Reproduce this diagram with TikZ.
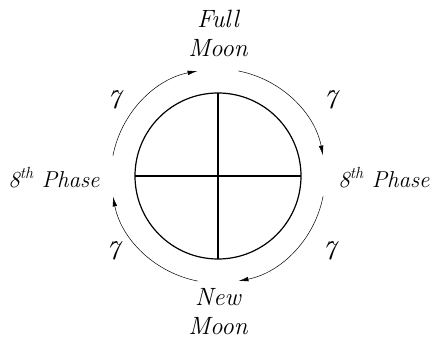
\documentclass[tikz,border=0pt]{standalone}
\usetikzlibrary{arrows.meta}
\begin{document}
\begin{tikzpicture}[x=1pt, y=1pt, >={Latex[length=10pt,width=4.5pt]},
    lbl/.style={font=\fontsize{25}{29}\selectfont\itshape, align=center, inner sep=0pt},
    phase/.style={font=\fontsize{23}{29}\selectfont\itshape, inner sep=0pt},
    num/.style={font=\fontsize{27}{27}\selectfont\itshape, inner sep=0pt},
    phasearc/.style={->, line width=0.5pt}]
    \useasboundingbox (-218,-166) rectangle (215,176);

    % Mondscheibe mit Kreuz
    \draw[line width=1.2pt] (0,0) circle (83);
    \draw[line width=1.1pt] (-83,0) -- (83,0) (0,83) -- (0,-83);

    % Beschriftungen
    \node[lbl] (full) at (0,143) {Full\\Moon};
    \node[lbl] (new) at (0,-136) {New\\Moon};
    \node[phase] (left) at (-164,-2) {8\textsuperscript{th} Phase};
    \node[phase] (right) at (166,-2) {8\textsuperscript{th} Phase};
    \node[num] (d1) at (-104,76) {7};
    \node[num] (d2) at (112,76) {7};
    \node[num] (d3) at (111,-75) {7};
    \node[num] (d4) at (-105,-75) {7};

    % Pfeile im Uhrzeigersinn
    \draw[phasearc] (169:107) arc[start angle=169, end angle=101, radius=107];
    \draw[phasearc] (79:107) arc[start angle=79, end angle=11, radius=107];
    \draw[phasearc] (-11:107) arc[start angle=-11, end angle=-79, radius=107];
    \draw[phasearc] (-101:107) arc[start angle=-101, end angle=-169, radius=107];
\end{tikzpicture}
\end{document}
